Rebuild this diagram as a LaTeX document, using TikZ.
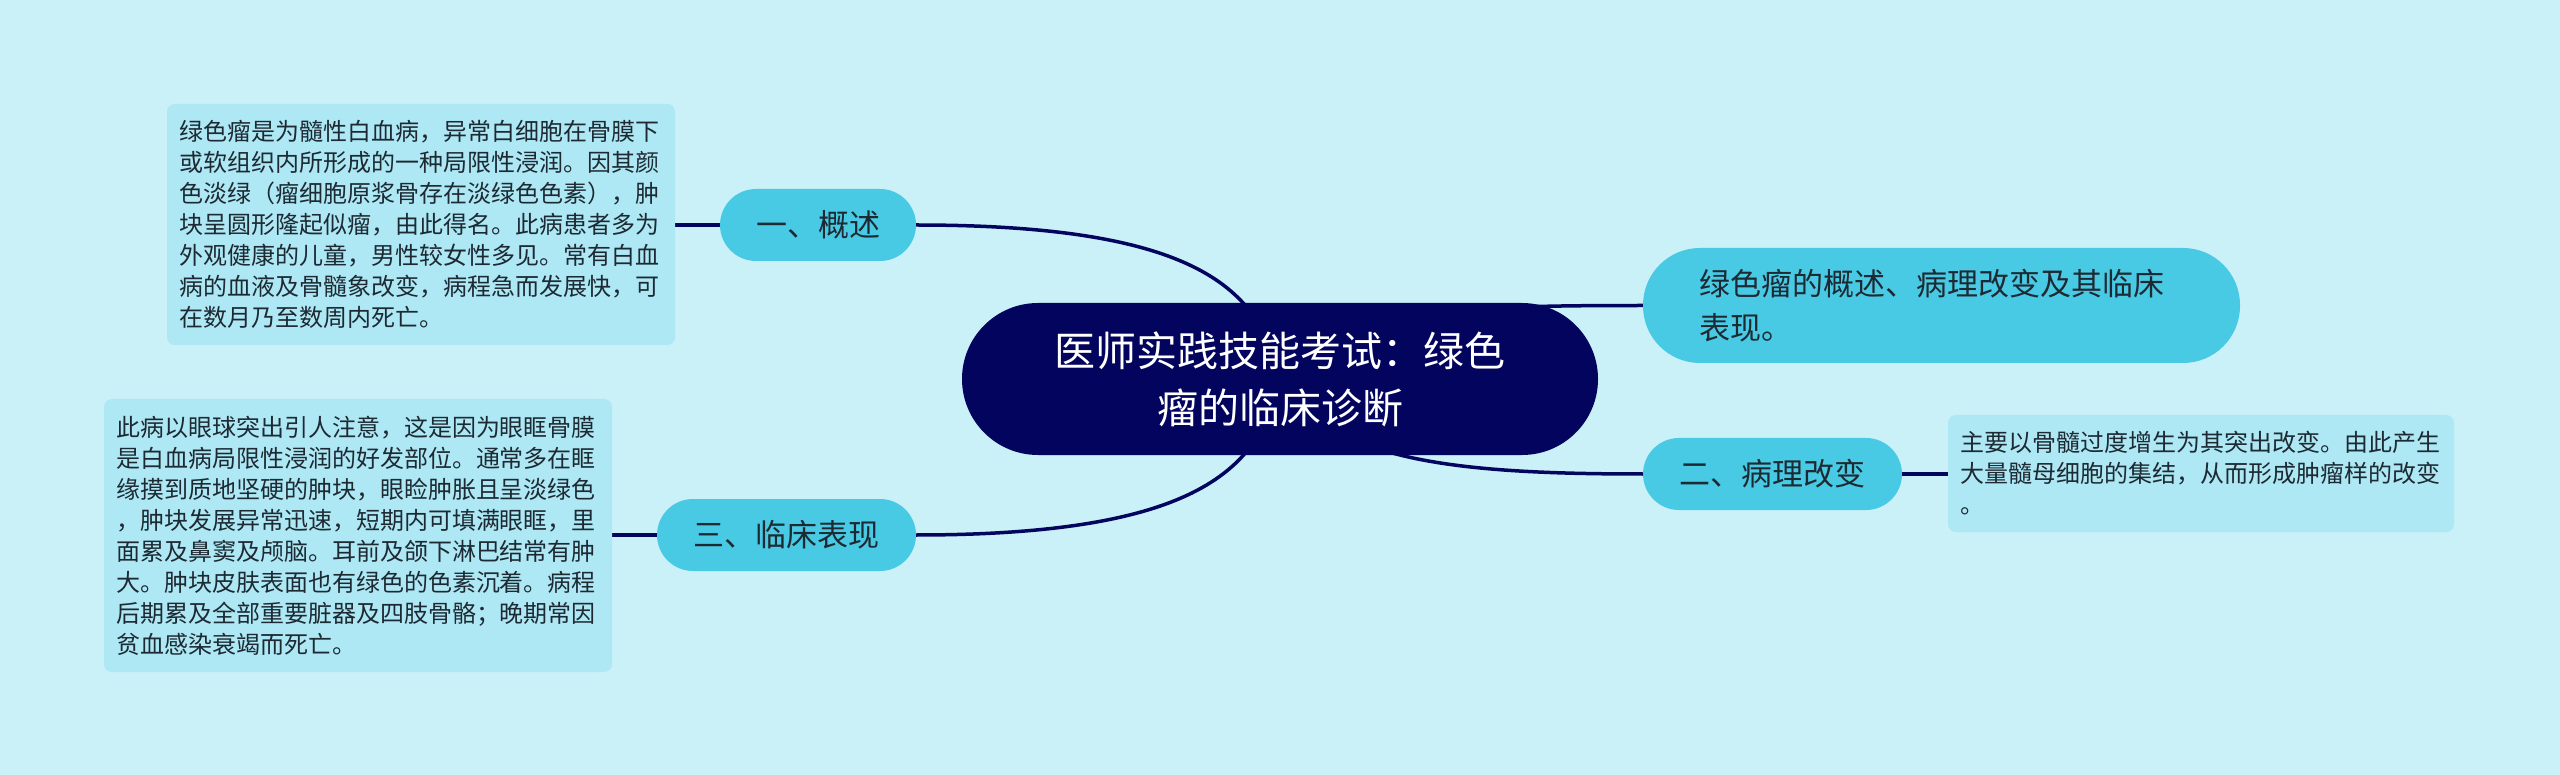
\documentclass[tikz,border=0pt]{standalone}
\usepackage{fontspec}
\setmainfont{Noto Sans CJK SC}
\definecolor{bg}{HTML}{CAF0F8}
\definecolor{navy}{HTML}{03045E}
\definecolor{topicblue}{HTML}{48CAE4}
\definecolor{noteblue}{HTML}{ADE8F4}
\definecolor{ink}{HTML}{1E2A33}
\pgfdeclarelayer{links}
\pgfsetlayers{links,main}
\begin{document}
\begin{tikzpicture}[x=1pt,y=-1pt,
  every node/.style={inner sep=0pt, outer sep=0pt},
  link/.style={draw=navy, line width=3.5pt},
  root/.style={fill=navy, text=white, rounded corners=76pt, minimum width=636pt, minimum height=152pt, align=center, font=\fontsize{41}{57}\selectfont},
  topic/.style={fill=topicblue, text=ink, rounded corners=36pt, minimum height=72pt, align=center, font=\fontsize{31}{44}\selectfont},
  note/.style={fill=noteblue, text=ink, rounded corners=8pt, align=left, inner xsep=12pt, font=\fontsize{24}{31}\selectfont}]
\useasboundingbox (0,0) rectangle (2560,775);

\node[root] (c) at (1280,379) {医师实践技能考试：绿色\\瘤的临床诊断};

\node[topic, minimum width=196pt] (n1) at (818,225) {一、概述};
\node[topic, minimum width=259pt] (n3) at (786.5,535) {三、临床表现};
\node[topic, minimum width=259pt] (n2) at (1772.5,474) {二、病理改变};
\node[topic, minimum height=115pt, rounded corners=57pt, align=left, text width=485pt, inner xsep=56pt] (n4) at (1941.5,305.5) {绿色瘤的概述、病理改变及其临床\\表现。};

\node[note, text width=484pt, minimum height=241pt] (b1) at (421,224.5) {绿色瘤是为髓性白血病，异常白细胞在骨膜下\\或软组织内所形成的一种局限性浸润。因其颜\\色淡绿（瘤细胞原浆骨存在淡绿色色素），肿\\块呈圆形隆起似瘤，由此得名。此病患者多为\\外观健康的儿童，男性较女性多见。常有白血\\病的血液及骨髓象改变，病程急而发展快，可\\在数月乃至数周内死亡。};

\node[note, text width=484pt, minimum height=273pt] (b3) at (358,535.5) {此病以眼球突出引人注意，这是因为眼眶骨膜\\是白血病局限性浸润的好发部位。通常多在眶\\缘摸到质地坚硬的肿块，眼睑肿胀且呈淡绿色\\，肿块发展异常迅速，短期内可填满眼眶，里\\面累及鼻窦及颅脑。耳前及颌下淋巴结常有肿\\大。肿块皮肤表面也有绿色的色素沉着。病程\\后期累及全部重要脏器及四肢骨骼；晚期常因\\贫血感染衰竭而死亡。};

\node[note, text width=482pt, minimum height=117pt] (b2) at (2201,473.5) {主要以骨髓过度增生为其突出改变。由此产生\\大量髓母细胞的集结，从而形成肿瘤样的改变\\。};

\begin{pgfonlayer}{links}
\fill[bg] (0,0) rectangle (2560,775);
\draw[link] (n1.east) .. controls +(284,0) and +(-20,-89) .. (c.center);
\draw[link] (n3.east) .. controls +(284,0) and +(-20,89) .. (c.center);
\draw[link] (c.center) .. controls +(50,-69) and +(-193,0) .. (n4.west);
\draw[link] (c.center) .. controls +(50,81) and +(-193,0) .. (n2.west);
\draw[link] (b1.east |- n1.west) -- (n1.west);
\draw[link] (b3.east |- n3.west) -- (n3.west);
\draw[link] (n2.east) -- (n2.east -| b2.west);
\end{pgfonlayer}
\end{tikzpicture}
\end{document}
